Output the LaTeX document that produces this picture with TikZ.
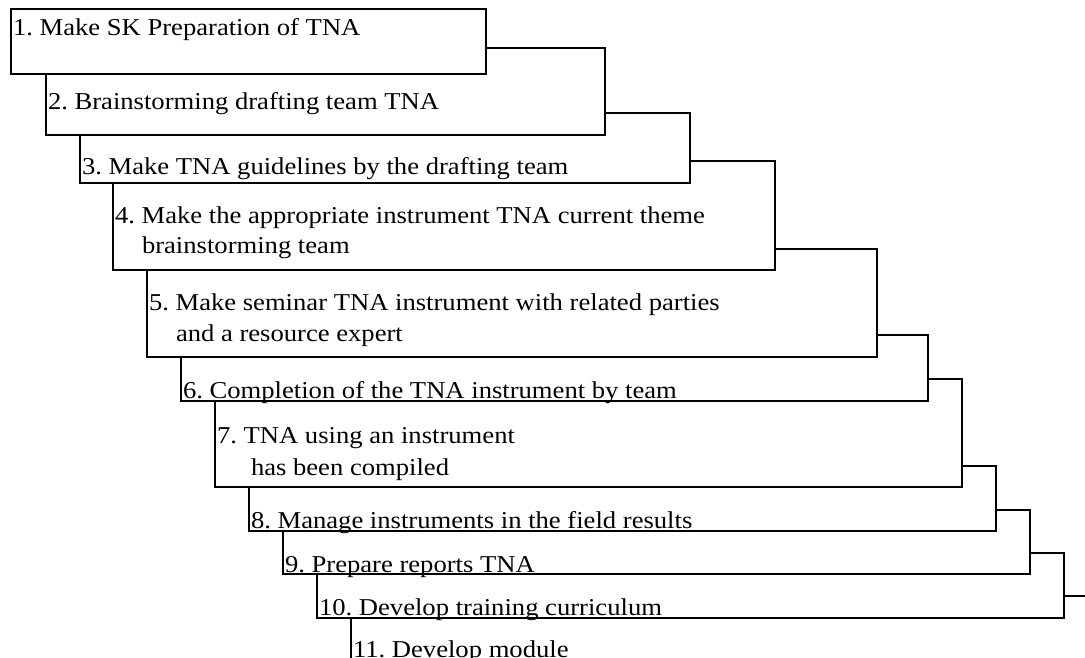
\documentclass[tikz,border=0pt]{standalone}
\usepackage{fontspec}
\setmainfont{Liberation Serif}[FakeStretch=1.1]
\frenchspacing
\begin{document}
\begin{tikzpicture}[x=1pt,y=-1pt,
  stagebox/.style={draw=black, fill=white, line width=1.2pt, inner sep=0pt,
    outer sep=0pt, anchor=north west},
  steptext/.style={anchor=base west, inner sep=0pt, outer sep=0pt,
    text=black, font=\fontsize{24.2}{29}\selectfont}]
\useasboundingbox (0,0) rectangle (1085,658);
\clip (0,0) rectangle (1085,658);
% stacked stage boxes, later stages drawn first so earlier ones overlap them
\node[stagebox, minimum width=759pt, minimum height=104pt] (b11) at (351,596) {};
\node[stagebox, minimum width=747pt, minimum height=65pt] (b10) at (317,553) {};
\node[stagebox, minimum width=747pt, minimum height=64pt] (b9) at (283,510) {};
\node[stagebox, minimum width=747pt, minimum height=65pt] (b8) at (249,466) {};
\node[stagebox, minimum width=747pt, minimum height=108pt] (b7) at (215,379) {};
\node[stagebox, minimum width=747pt, minimum height=66pt] (b6) at (181,335) {};
\node[stagebox, minimum width=730pt, minimum height=108pt] (b5) at (147,249) {};
\node[stagebox, minimum width=662pt, minimum height=109pt] (b4) at (113,161) {};
\node[stagebox, minimum width=610pt, minimum height=70pt] (b3) at (80,113) {};
\node[stagebox, minimum width=559pt, minimum height=87pt] (b2) at (46,48) {};
\node[stagebox, minimum width=475pt, minimum height=65pt] (b1) at (11,9) {};
% stage labels
\node[steptext] (t1) at (13,36) {1. Make SK Preparation of TNA};
\node[steptext] (t2) at (48,110) {2. Brainstorming drafting team TNA};
\node[steptext] (t3) at (82,175) {3. Make TNA guidelines by the drafting team};
\node[steptext] (t4) at (115,223) {4. Make the appropriate instrument TNA current theme};
\node[steptext] (t4b) at (142,253) {brainstorming team};
\node[steptext] (t5) at (149,310) {5. Make seminar TNA instrument with related parties};
\node[steptext] (t5b) at (176,341) {and a resource expert};
\node[steptext] (t6) at (183,398) {6. Completion of the TNA instrument by team};
\node[steptext] (t7) at (217,443) {7. TNA using an instrument};
\node[steptext] (t7b) at (251,475) {has been compiled};
\node[steptext] (t8) at (251,528) {8. Manage instruments in the field results};
\node[steptext] (t9) at (285,572) {9. Prepare reports TNA};
\node[steptext] (t10) at (319,615) {10. Develop training curriculum};
\node[steptext] (t11) at (353,657) {11. Develop module};
\end{tikzpicture}
\end{document}
